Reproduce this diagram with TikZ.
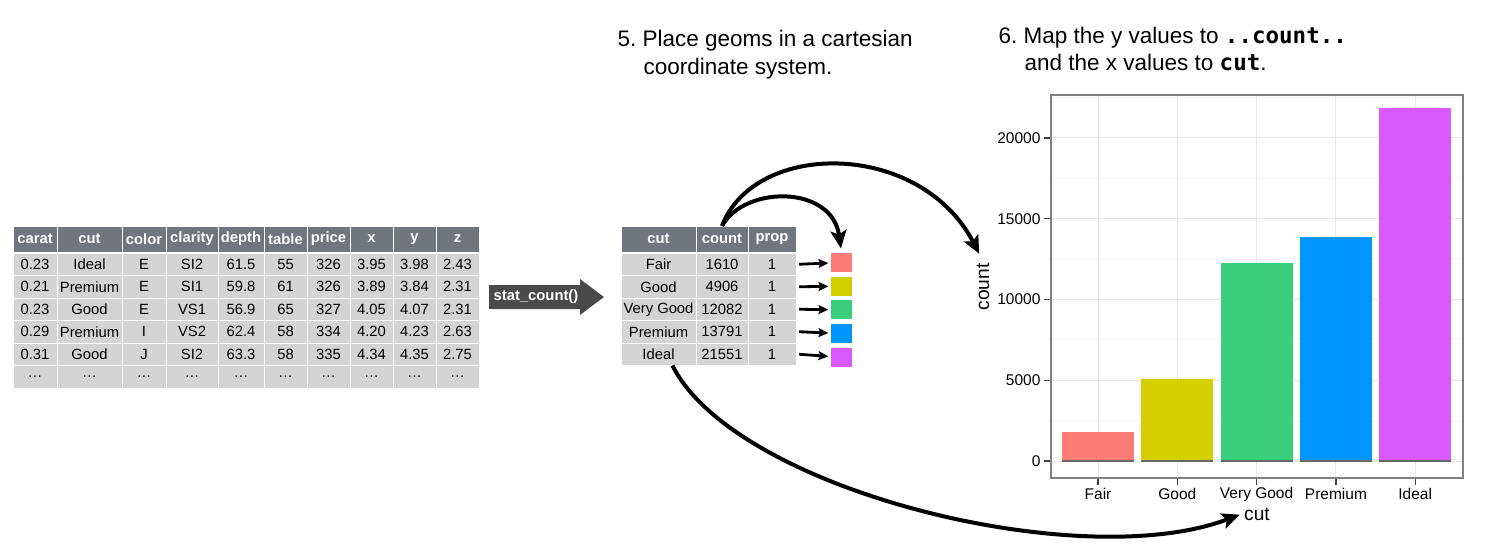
\documentclass[tikz,border=0pt]{standalone}
\usepackage{fontspec}
\setmainfont{Liberation Sans}
\setmonofont{DejaVu Sans Mono}
\usepackage{tikz}
\usetikzlibrary{positioning}
\usetikzlibrary{shapes,arrows.meta}
\usetikzlibrary{calc}

\definecolor{hdrgray}{RGB}{112,117,126}
\definecolor{cellgray}{RGB}{212,212,212}
\definecolor{statgray}{RGB}{74,74,74}
\definecolor{cFair}{RGB}{254,124,118}
\definecolor{cGood}{RGB}{212,208,0}
\definecolor{cVeryGood}{RGB}{58,207,122}
\definecolor{cPremium}{RGB}{0,149,255}
\definecolor{cIdeal}{RGB}{216,90,255}
\definecolor{gridmaj}{RGB}{232,232,232}
\definecolor{gridmin}{RGB}{244,244,244}

\begin{document}
\frenchspacing
\begin{tikzpicture}[x=0.5pt, y=-0.5pt, >={Stealth[length=9pt,width=8pt,inset=2pt]}, semithick]
\tikzstyle{hdr}=[fill=hdrgray, text=white, font=\fontsize{7.4}{8}\selectfont\bfseries, inner sep=0pt, minimum height=12.5pt]
\tikzstyle{cell}=[fill=cellgray, text=black, font=\fontsize{7.4}{8}\selectfont, inner sep=0pt, minimum height=10.75pt]
\tikzstyle{swatch}=[inner sep=0pt, minimum width=10.5pt, minimum height=9.5pt]
\tikzstyle{pointer}=[-{Stealth[length=5pt,width=4.5pt,inset=1pt]}, line width=1.4pt, shorten >=1pt]
\tikzstyle{bigarrow}=[->, line width=2pt]
\tikzstyle{title}=[font=\fontsize{11.25}{14}\selectfont, inner sep=0pt, anchor=base west]
\tikzstyle{ticklab}=[font=\fontsize{7.75}{9}\selectfont, inner sep=1pt]
\tikzstyle{axtitle}=[font=\fontsize{9.6}{11}\selectfont, inner sep=1pt]
\tikzstyle{tick}=[draw=black!75, line width=0.6pt]
\useasboundingbox (0,0) rectangle (1488,551);

\node[title] (t5a) at (617,47) {5. Place geoms in a cartesian};
\node[title] (t5b) at (643,75) {coordinate system.};
\node[title] (t6a) at (998,44) {6. Map the y values to \texttt{\bfseries ..count..}};
\node[title] (t6b) at (1024,71) {and the x values to \texttt{\bfseries cut}.};

\foreach \xa/\xb/\head/\vals [count=\c] in {
  13/57/carat/{0.23,0.21,0.23,0.29,0.31,\dots},
  57/122/cut/{Ideal,Premium,Good,Premium,Good,\dots},
  122/166/color/{E,E,E,I,J,\dots},
  166/218/clarity/{SI2,SI1,VS1,VS2,SI2,\dots},
  218/264/depth/{61.5,59.8,56.9,62.4,63.3,\dots},
  264/307/table/{55,61,65,58,58,\dots},
  307/350/price/{326,326,327,334,335,\dots},
  350/393/x/{3.95,3.89,4.05,4.20,4.34,\dots},
  393/436/y/{3.98,3.84,4.07,4.23,4.35,\dots},
  436/479/z/{2.43,2.31,2.31,2.63,2.75,\dots}}{
  \node[hdr, minimum width={(\xb-\xa-1)*0.5pt}] (lh\c) at ({(\xa+\xb)/2},239) {\head};
  \foreach \v [count=\r] in \vals
    \node[cell, minimum width={(\xb-\xa-1)*0.5pt}] (l\c-\r) at ({(\xa+\xb)/2},{264.25+22.5*(\r-1)}) {\v};
}

\fill[statgray] (489,285) -- (580,285) -- (580,279) -- (604,297) -- (580,315) -- (580,309) -- (489,309) -- cycle;
\node[text=white, font=\fontsize{7.4}{8}\selectfont\bfseries] (stat) at (536,297) {stat\_count()};

\foreach \xa/\xb/\head/\vals [count=\c] in {
  621/696/cut/{Fair,Good,Very Good,Premium,Ideal},
  696/748/count/{1610,4906,12082,13791,21551},
  748/796/prop/{1,1,1,1,1}}{
  \node[hdr, minimum width={(\xb-\xa-1)*0.5pt}] (mh\c) at ({(\xa+\xb)/2},239) {\head};
  \foreach \v [count=\r] in \vals
    \node[cell, minimum width={(\xb-\xa-1)*0.5pt}] (m\c-\r) at ({(\xa+\xb)/2},{264.25+22.5*(\r-1)}) {\v};
}

\foreach \col [count=\r] in {cFair,cGood,cVeryGood,cPremium,cIdeal}{
  \node[swatch, fill=\col] (sq\r) at (841.5,{262.5+23.7*(\r-1)}) {};
  \draw[pointer] ([xshift=1.5pt]m3-\r.east) -- (sq\r);
}

\foreach \k in {2.5,7.5,12.5,17.5,22.5}
  \draw[gridmin, line width=0.5pt] (1051,{461-\k*16.15}) -- (1463,{461-\k*16.15});
\foreach \k/\lab in {0/0,5/5000,10/10000,15/15000,20/20000}{
  \draw[gridmaj, line width=0.5pt] (1051,{461-\k*16.15}) -- (1463,{461-\k*16.15});
  \draw[tick] (1044,{461-\k*16.15}) -- (1051,{461-\k*16.15});
  \node[ticklab, anchor=east] (yt\k) at (1043,{461-\k*16.15}) {\lab};
}
\foreach \name/\top/\col [count=\i] in {Fair/432/cFair, Good/379/cGood, Very Good/263/cVeryGood, Premium/237/cPremium, Ideal/108/cIdeal}{
  \pgfmathsetmacro\cx{1098+79.3*(\i-1)}
  \draw[gridmaj, line width=0.5pt] (\cx,95) -- (\cx,478);
  \fill[\col] (\cx-36,\top) rectangle (\cx+36,461);
  \draw[black!60, line width=0.6pt] (\cx-36,461) -- (\cx+36,461);
  \draw[tick] (\cx,478) -- (\cx,485);
  \node[ticklab] (xt\i) at (\cx,494) {\name};
}
\draw[black!50, line width=0.6pt] (1051,95) rectangle (1463,478);
\node[axtitle, rotate=90] (ylab) at (983,287) {count};
\node[axtitle] (xlab) at (1257,514) {cut};

\draw[bigarrow, shorten >=2pt] (mh2.north) .. controls (745,185) and (832,185) .. (sq1.north);
\draw[bigarrow, shorten >=4pt] (mh2.north) .. controls (755,140) and (920,140) .. (ylab.east);
\draw[bigarrow, shorten >=1pt] ([xshift=7pt]m1-5.south) .. controls (735,490) and (1080,575) .. (xlab.west);
\end{tikzpicture}
\end{document}
